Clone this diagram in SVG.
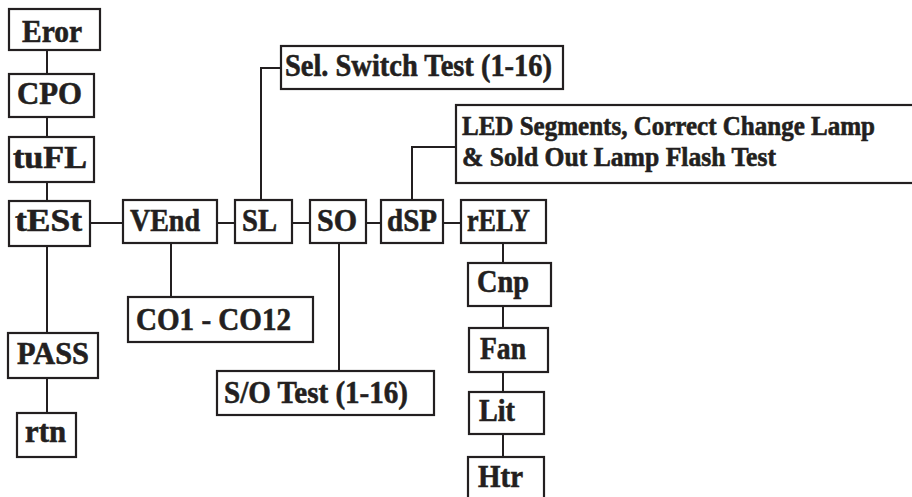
<svg xmlns="http://www.w3.org/2000/svg" width="912" height="497" viewBox="0 0 912 497">
<style>
.b{fill:#fff;stroke:#231f20;stroke-width:2.2}
.c{fill:none;stroke:#231f20;stroke-width:2}
text{font-family:"Liberation Serif","Times New Roman",serif;font-weight:bold;font-size:31.5px;fill:#231f20;stroke:#231f20;stroke-width:0.6}
.s{font-size:27px}
</style>
<rect width="912" height="497" fill="#fff"/>
<g id="connectors">
<line class="c" x1="47" y1="50" x2="47" y2="333"/>
<line class="c" x1="47" y1="378" x2="47" y2="413"/>
<line class="c" x1="90" y1="223" x2="123" y2="223"/>
<line class="c" x1="217" y1="223" x2="235" y2="223"/>
<line class="c" x1="292" y1="223" x2="310" y2="223"/>
<line class="c" x1="366" y1="223" x2="381" y2="223"/>
<line class="c" x1="443" y1="223" x2="461" y2="223"/>
<line class="c" x1="171" y1="243" x2="171" y2="297"/>
<line class="c" x1="339" y1="243" x2="339" y2="371"/>
<polyline class="c" points="261,200 261,68 281,68"/>
<polyline class="c" points="412,200 412,147 456,147"/>
<line class="c" x1="503" y1="243" x2="503" y2="460"/>
</g>
<g id="eror"><rect class="b" x="9" y="9" width="91" height="41"/><text x="22" y="42" font-size="29.5" textLength="60" lengthAdjust="spacingAndGlyphs">Eror</text></g>
<g id="cpo"><rect class="b" x="9" y="74" width="85" height="43"/><text x="17" y="104" textLength="65" lengthAdjust="spacingAndGlyphs">CPO</text></g>
<g id="tufl"><rect class="b" x="9" y="137" width="85" height="45"/><text x="13" y="168" textLength="74" lengthAdjust="spacingAndGlyphs">tuFL</text></g>
<g id="test"><rect class="b" x="9" y="201" width="81" height="45"/><text x="15" y="231" textLength="67" lengthAdjust="spacingAndGlyphs">tESt</text></g>
<g id="pass"><rect class="b" x="8" y="333" width="90" height="45"/><text x="17" y="364" font-size="33" textLength="72" lengthAdjust="spacingAndGlyphs">PASS</text></g>
<g id="rtn"><rect class="b" x="17" y="413" width="59" height="44"/><text x="25" y="442" textLength="41" lengthAdjust="spacingAndGlyphs">rtn</text></g>
<g id="vend"><rect class="b" x="123" y="200" width="94" height="43"/><text x="130" y="231" textLength="70" lengthAdjust="spacingAndGlyphs">VEnd</text></g>
<g id="sl"><rect class="b" x="235" y="200" width="57" height="43"/><text x="242" y="231" textLength="35" lengthAdjust="spacingAndGlyphs">SL</text></g>
<g id="so"><rect class="b" x="310" y="200" width="56" height="43"/><text x="317" y="231" textLength="40" lengthAdjust="spacingAndGlyphs">SO</text></g>
<g id="dsp"><rect class="b" x="381" y="200" width="62" height="43"/><text x="387" y="231" textLength="50" lengthAdjust="spacingAndGlyphs">dSP</text></g>
<g id="rely"><rect class="b" x="461" y="200" width="85" height="43"/><text x="467" y="231" textLength="63" lengthAdjust="spacingAndGlyphs">rELY</text></g>
<g id="co"><rect class="b" x="128" y="297" width="185" height="45"/><text x="136" y="330" textLength="155" lengthAdjust="spacingAndGlyphs">CO1 - CO12</text></g>
<g id="sotest"><rect class="b" x="217" y="371" width="217" height="44"/><text x="224" y="403" textLength="184" lengthAdjust="spacingAndGlyphs">S/O Test (1-16)</text></g>
<g id="seltest"><rect class="b" x="281" y="46" width="282" height="43"/><text x="285" y="76" textLength="267" lengthAdjust="spacingAndGlyphs">Sel. Switch Test (1-16)</text></g>
<g id="led"><rect class="b" x="456" y="105" width="458" height="78"/><text class="s" x="462" y="135" textLength="413" lengthAdjust="spacingAndGlyphs">LED Segments, Correct Change Lamp</text><text class="s" x="462" y="166" textLength="314" lengthAdjust="spacingAndGlyphs">&amp; Sold Out Lamp Flash Test</text></g>
<g id="cnp"><rect class="b" x="468" y="263" width="83" height="43"/><text x="477" y="292" textLength="52" lengthAdjust="spacingAndGlyphs">Cnp</text></g>
<g id="fan"><rect class="b" x="469" y="328" width="79" height="44"/><text x="480" y="359" textLength="46" lengthAdjust="spacingAndGlyphs">Fan</text></g>
<g id="lit"><rect class="b" x="469" y="392" width="75" height="42"/><text x="479" y="421" textLength="36" lengthAdjust="spacingAndGlyphs">Lit</text></g>
<g id="htr"><rect class="b" x="468" y="457" width="76" height="50"/><text x="478" y="487" textLength="45" lengthAdjust="spacingAndGlyphs">Htr</text></g>
</svg>
